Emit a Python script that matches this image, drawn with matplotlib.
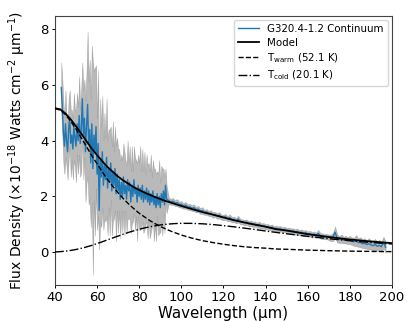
import numpy as np
import matplotlib
matplotlib.use("Agg")
import matplotlib.pyplot as plt

# ---- observed spectrum: noisy short-wavelength part (0.5 um sampling) ----
wave_a = np.arange(43.0, 93.01, 0.5)
flux_a = [5.9, 5.2, 4.3, 3.8, 4.6, 4.0, 3.6, 4.4, 4.8, 3.9,
          4.2, 3.7, 4.5, 4.1, 3.8, 4.6, 4.0, 4.9, 3.9, 4.4,
          5.5, 4.2, 4.8, 3.6, 4.5, 5.3, 3.9, 4.4, 3.2, 4.6,
          3.0, 4.2, 3.6, 4.5, 2.8, 3.9, 1.5, 3.3, 2.7, 3.6,
          2.4, 3.1, 2.6, 3.4, 2.3, 3.0, 2.5, 3.2, 2.2, 2.9,
          2.4, 3.0, 2.1, 2.8, 2.2, 2.6, 1.9, 2.5, 2.0, 2.7,
          2.1, 2.4, 1.9, 2.6, 2.2, 2.5, 1.8, 2.4, 2.0, 2.6,
          2.1, 2.3, 1.8, 2.4, 2.0, 2.3, 1.9, 2.4, 1.8, 2.2,
          1.9, 2.3, 1.8, 2.2, 1.7, 2.1, 1.8, 2.2, 1.7, 2.0,
          1.6, 2.1, 1.7, 2.0, 1.6, 2.1, 1.8, 2.2, 1.7, 2.4,
          1.9]
err_a = [0.9, 1.0, 1.1, 1.0, 1.2, 0.9, 1.0, 1.1, 1.0, 1.2,
         0.9, 1.1, 1.2, 1.0, 1.3, 1.1, 1.2, 1.4, 1.2, 1.5,
         1.3, 1.6, 1.4, 1.8, 2.0, 2.6, 2.2, 2.5, 2.3, 2.8,
         3.8, 2.3, 3.0, 2.2, 2.0, 2.6, 1.4, 2.2, 1.8, 2.0,
         1.6, 1.9, 1.5, 2.1, 1.7, 1.4, 1.9, 1.3, 1.6, 1.8,
         1.2, 1.5, 1.7, 1.3, 1.5, 1.1, 1.4, 1.0, 1.3, 1.2,
         1.5, 0.9, 1.2, 1.4, 1.0, 1.3, 1.1, 1.4, 0.9, 1.2,
         1.3, 1.0, 1.4, 1.1, 1.2, 1.5, 1.0, 1.3, 1.1, 1.4,
         0.9, 1.2, 1.3, 1.0, 1.2, 1.4, 0.9, 1.1, 1.3, 1.0,
         1.2, 0.8, 1.1, 1.3, 0.9, 1.0, 1.2, 0.8, 1.0, 0.6,
         0.5]

# ---- observed spectrum: long-wavelength part (1 um sampling) ----
wave_b = np.arange(94.0, 197.01, 1.0)
flux_b = [1.86, 1.80, 1.83, 1.76, 1.78, 1.71, 1.72, 1.66, 1.69, 1.62,
          1.63, 1.58, 1.60, 1.53, 1.55, 1.48, 1.50, 1.43, 1.45, 1.39,
          1.40, 1.34, 1.36, 1.30, 1.33, 1.26, 1.25, 1.27, 1.20, 1.24,
          1.17, 1.18, 1.13, 1.19, 1.10, 1.09, 1.06, 1.08, 1.02, 1.04,
          1.00, 1.01, 0.97, 0.99, 0.94, 0.95, 0.91, 0.92, 0.88, 0.90,
          0.85, 0.86, 0.83, 0.85, 0.80, 0.82, 0.78, 0.79, 0.76, 0.77,
          0.73, 0.75, 0.71, 0.72, 0.68, 0.70, 0.66, 0.67, 0.63, 0.65,
          0.61, 0.68, 0.59, 0.58, 0.56, 0.57, 0.54, 0.52, 0.55, 0.72,
          0.50, 0.46, 0.49, 0.44, 0.46, 0.42, 0.44, 0.40, 0.38, 0.42,
          0.35, 0.36, 0.31, 0.33, 0.28, 0.31, 0.27, 0.24, 0.28, 0.22,
          0.25, 0.20, 0.36, 0.18]
err_b = [0.12, 0.10, 0.12, 0.10, 0.13, 0.10, 0.12, 0.10, 0.12, 0.10,
         0.11, 0.10, 0.12, 0.10, 0.11, 0.10, 0.12, 0.09, 0.10, 0.09,
         0.11, 0.10, 0.09, 0.10, 0.11, 0.09, 0.10, 0.10, 0.09, 0.12,
         0.10, 0.10, 0.09, 0.12, 0.10, 0.09, 0.10, 0.10, 0.09, 0.10,
         0.09, 0.10, 0.09, 0.11, 0.09, 0.10, 0.09, 0.10, 0.09, 0.10,
         0.09, 0.10, 0.10, 0.09, 0.10, 0.10, 0.09, 0.10, 0.10, 0.09,
         0.10, 0.10, 0.09, 0.10, 0.10, 0.10, 0.09, 0.10, 0.10, 0.10,
         0.09, 0.12, 0.10, 0.10, 0.09, 0.10, 0.10, 0.12, 0.15, 0.20,
         0.15, 0.12, 0.15, 0.12, 0.14, 0.12, 0.15, 0.13, 0.15, 0.20,
         0.15, 0.18, 0.15, 0.18, 0.15, 0.20, 0.16, 0.18, 0.20, 0.16,
         0.20, 0.18, 0.20, 0.20]

# ---- model curves ----
model_wave = [40, 42.5, 45, 47.5, 50, 52.5, 55, 57.5, 60, 62.5, 65, 67.5,
              70, 72.5, 75, 77.5, 80, 82.5, 85, 87.5, 90, 92.5, 95, 97.5,
              100, 105, 110, 115, 120, 125, 130, 135, 140, 145, 150, 160,
              170, 180, 190, 200]
warm = [5.15, 5.09, 4.93, 4.69, 4.41, 4.10, 3.78, 3.46, 3.17, 2.88, 2.60, 2.36,
        2.13, 1.92, 1.73, 1.56, 1.40, 1.27, 1.14, 1.03, 0.93, 0.84, 0.76, 0.69,
        0.62, 0.51, 0.42, 0.35, 0.29, 0.24, 0.20, 0.17, 0.15, 0.12, 0.11, 0.08,
        0.06, 0.044, 0.034, 0.026]
cold = [0.014, 0.026, 0.044, 0.070, 0.103, 0.146, 0.195, 0.251, 0.314, 0.380,
        0.449, 0.518, 0.584, 0.652, 0.715, 0.773, 0.826, 0.874, 0.915, 0.950,
        0.980, 1.003, 1.019, 1.033, 1.039, 1.038, 1.023, 0.995, 0.957, 0.914,
        0.866, 0.817, 0.765, 0.714, 0.665, 0.573, 0.489, 0.416, 0.353, 0.299]
model = [5.16, 5.12, 4.97, 4.76, 4.51, 4.25, 3.98, 3.71, 3.48, 3.26, 3.05, 2.88,
         2.71, 2.57, 2.45, 2.33, 2.23, 2.14, 2.06, 1.98, 1.91, 1.84, 1.78, 1.72,
         1.66, 1.55, 1.44, 1.35, 1.25, 1.15, 1.07, 0.99, 0.92, 0.83, 0.78, 0.65,
         0.55, 0.46, 0.39, 0.33]

labels = ["G320.4-1.2 Continuum", "Model",
          r"T$_{\rm warm}$ (52.1 K)", r"T$_{\rm cold}$ (20.1 K)"]

wave = np.concatenate([wave_a, wave_b])
flux = np.array(flux_a + flux_b)
err = np.array(err_a + err_b)

fig = plt.figure(figsize=(4.07, 3.21), dpi=100)
ax = fig.add_axes([0.135, 0.112, 0.828, 0.839])

ax.fill_between(wave, flux - err, flux + err, color="gray", alpha=0.55,
                linewidth=0.4, zorder=1)
ax.plot(wave, flux, color="#1f77b4", lw=1.0, label=labels[0], zorder=2)
ax.plot(model_wave, model, color="black", lw=1.3, label=labels[1], zorder=3)
ax.plot(model_wave, warm, color="black", lw=1.0, ls="--", label=labels[2], zorder=3)
ax.plot(model_wave, cold, color="black", lw=1.0, ls="-.", label=labels[3], zorder=3)

ax.set_xlim(40, 200)
ax.set_ylim(-1.17, 8.47)
ax.set_xticks([40, 60, 80, 100, 120, 140, 160, 180, 200])
ax.set_yticks([0, 2, 4, 6, 8])
ax.tick_params(labelsize=9.5, length=2.5, pad=2.0, width=0.7)
ax.set_xlabel("Wavelength (µm)", fontsize=10.8, labelpad=1.5)
ax.set_ylabel(r"Flux Density ($\times$10$^{-18}$ Watts cm$^{-2}$ µm$^{-1}$)",
              fontsize=10, labelpad=9)
for s in ax.spines.values():
    s.set_color("#444444")
    s.set_linewidth(0.8)

ax.legend(loc="upper right", fontsize=7.4, frameon=True, handlelength=2.0,
          borderaxespad=0.4, labelspacing=0.35)

fig.savefig("out.png", dpi=100)
